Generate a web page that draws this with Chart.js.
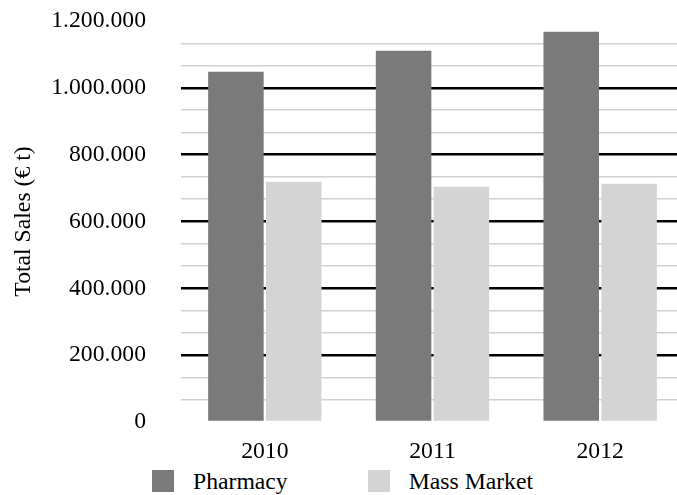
<!DOCTYPE html>
<html>
<head>
<meta charset="utf-8">
<script src="https://cdn.jsdelivr.net/npm/chart.js@4.4.1/dist/chart.umd.min.js"></script>
<style>
  body { margin: 0; background: #fff; overflow: hidden; width: 677px; height: 495px; position: relative;
         font-family: "Liberation Serif", "Times New Roman", serif; }
  #wrap { position: absolute; left: 0; top: 0; width: 684px; height: 466px; }
  #legend { position: absolute; top: 470px; left: 152px; display: flex; font-size: 23.7px; line-height: 22px; color: #000; }
  #legend .item { display: flex; align-items: center; margin-right: 80px; }
  #legend .swatch { width: 22px; height: 22px; margin-right: 19px; }
</style>
</head>
<body>
<div id="wrap"><canvas id="salesChart" width="684" height="466"></canvas></div>
<div id="legend"></div>
<script>
// data
const years = ['2010', '2011', '2012'];
const pharmacy = [1048000, 1111000, 1168000];
const massMarket = [719000, 704000, 713000];
const seriesNames = ['Pharmacy', 'Mass Market'];
const seriesColors = ['#7a7a7a', '#d4d4d4'];
const yMax = 1200000;
const yMajorStep = 200000;
const minorPerMajor = 3;

const FONT = { family: '"Liberation Serif", "Times New Roman", serif', size: 23.7 };

function formatThousands(v) {
    return String(Math.round(v)).replace(/\B(?=(\d{3})+(?!\d))/g, '.');
}

document.addEventListener('DOMContentLoaded', () => {
    createSalesChart();
    buildLegend();
});

function createSalesChart() {
    const ctx = document.getElementById('salesChart');
    const lastIndex = Math.round(yMax / (yMajorStep / minorPerMajor));

    new Chart(ctx, {
        type: 'bar',
        data: {
            labels: years,
            datasets: [
                { label: seriesNames[0], data: pharmacy, backgroundColor: seriesColors[0] },
                { label: seriesNames[1], data: massMarket, backgroundColor: seriesColors[1] }
            ]
        },
        options: {
            responsive: false,
            animation: false,
            layout: { padding: { top: 21, right: 0, bottom: 2, left: 0 } },
            datasets: {
                bar: { categoryPercentage: 0.69, barPercentage: 0.96 }
            },
            plugins: {
                legend: { display: false },
                tooltip: { enabled: false }
            },
            scales: {
                x: {
                    afterFit: (scale) => { scale.height = 42; },
                    grid: { display: false, drawTicks: false },
                    border: { display: false },
                    ticks: { color: '#000', font: FONT, padding: 16 }
                },
                y: {
                    min: 0,
                    max: yMax,
                    afterFit: (scale) => {
                        scale.width = 181;
                        // let the end labels hang into the layout padding
                        scale.paddingTop = 0;
                        scale.paddingBottom = 0;
                    },
                    border: { display: false },
                    title: {
                        display: true,
                        text: 'Total Sales (€ t)',
                        color: '#000',
                        font: FONT,
                        padding: { top: 10, bottom: 0 }
                    },
                    ticks: {
                        stepSize: yMajorStep / minorPerMajor,
                        autoSkip: false,
                        color: '#000',
                        font: FONT,
                        padding: 35,
                        callback: function(value, index) {
                            return index % minorPerMajor === 0 ? formatThousands(value) : '';
                        }
                    },
                    grid: {
                        drawTicks: false,
                        color: function(c) {
                            if (c.index === 0 || c.index === lastIndex) return 'rgba(0,0,0,0)';
                            return c.index % minorPerMajor === 0 ? '#000' : '#d0d0d0';
                        },
                        lineWidth: function(c) {
                            return c.index % minorPerMajor === 0 ? 2.5 : 1.5;
                        }
                    }
                }
            }
        }
    });
}

function buildLegend() {
    const box = document.getElementById('legend');
    seriesNames.forEach((name, i) => {
        const item = document.createElement('div');
        item.className = 'item';
        const sw = document.createElement('span');
        sw.className = 'swatch';
        sw.style.background = seriesColors[i];
        const txt = document.createElement('span');
        txt.textContent = name;
        item.appendChild(sw);
        item.appendChild(txt);
        box.appendChild(item);
    });
}
</script>
</body>
</html>
